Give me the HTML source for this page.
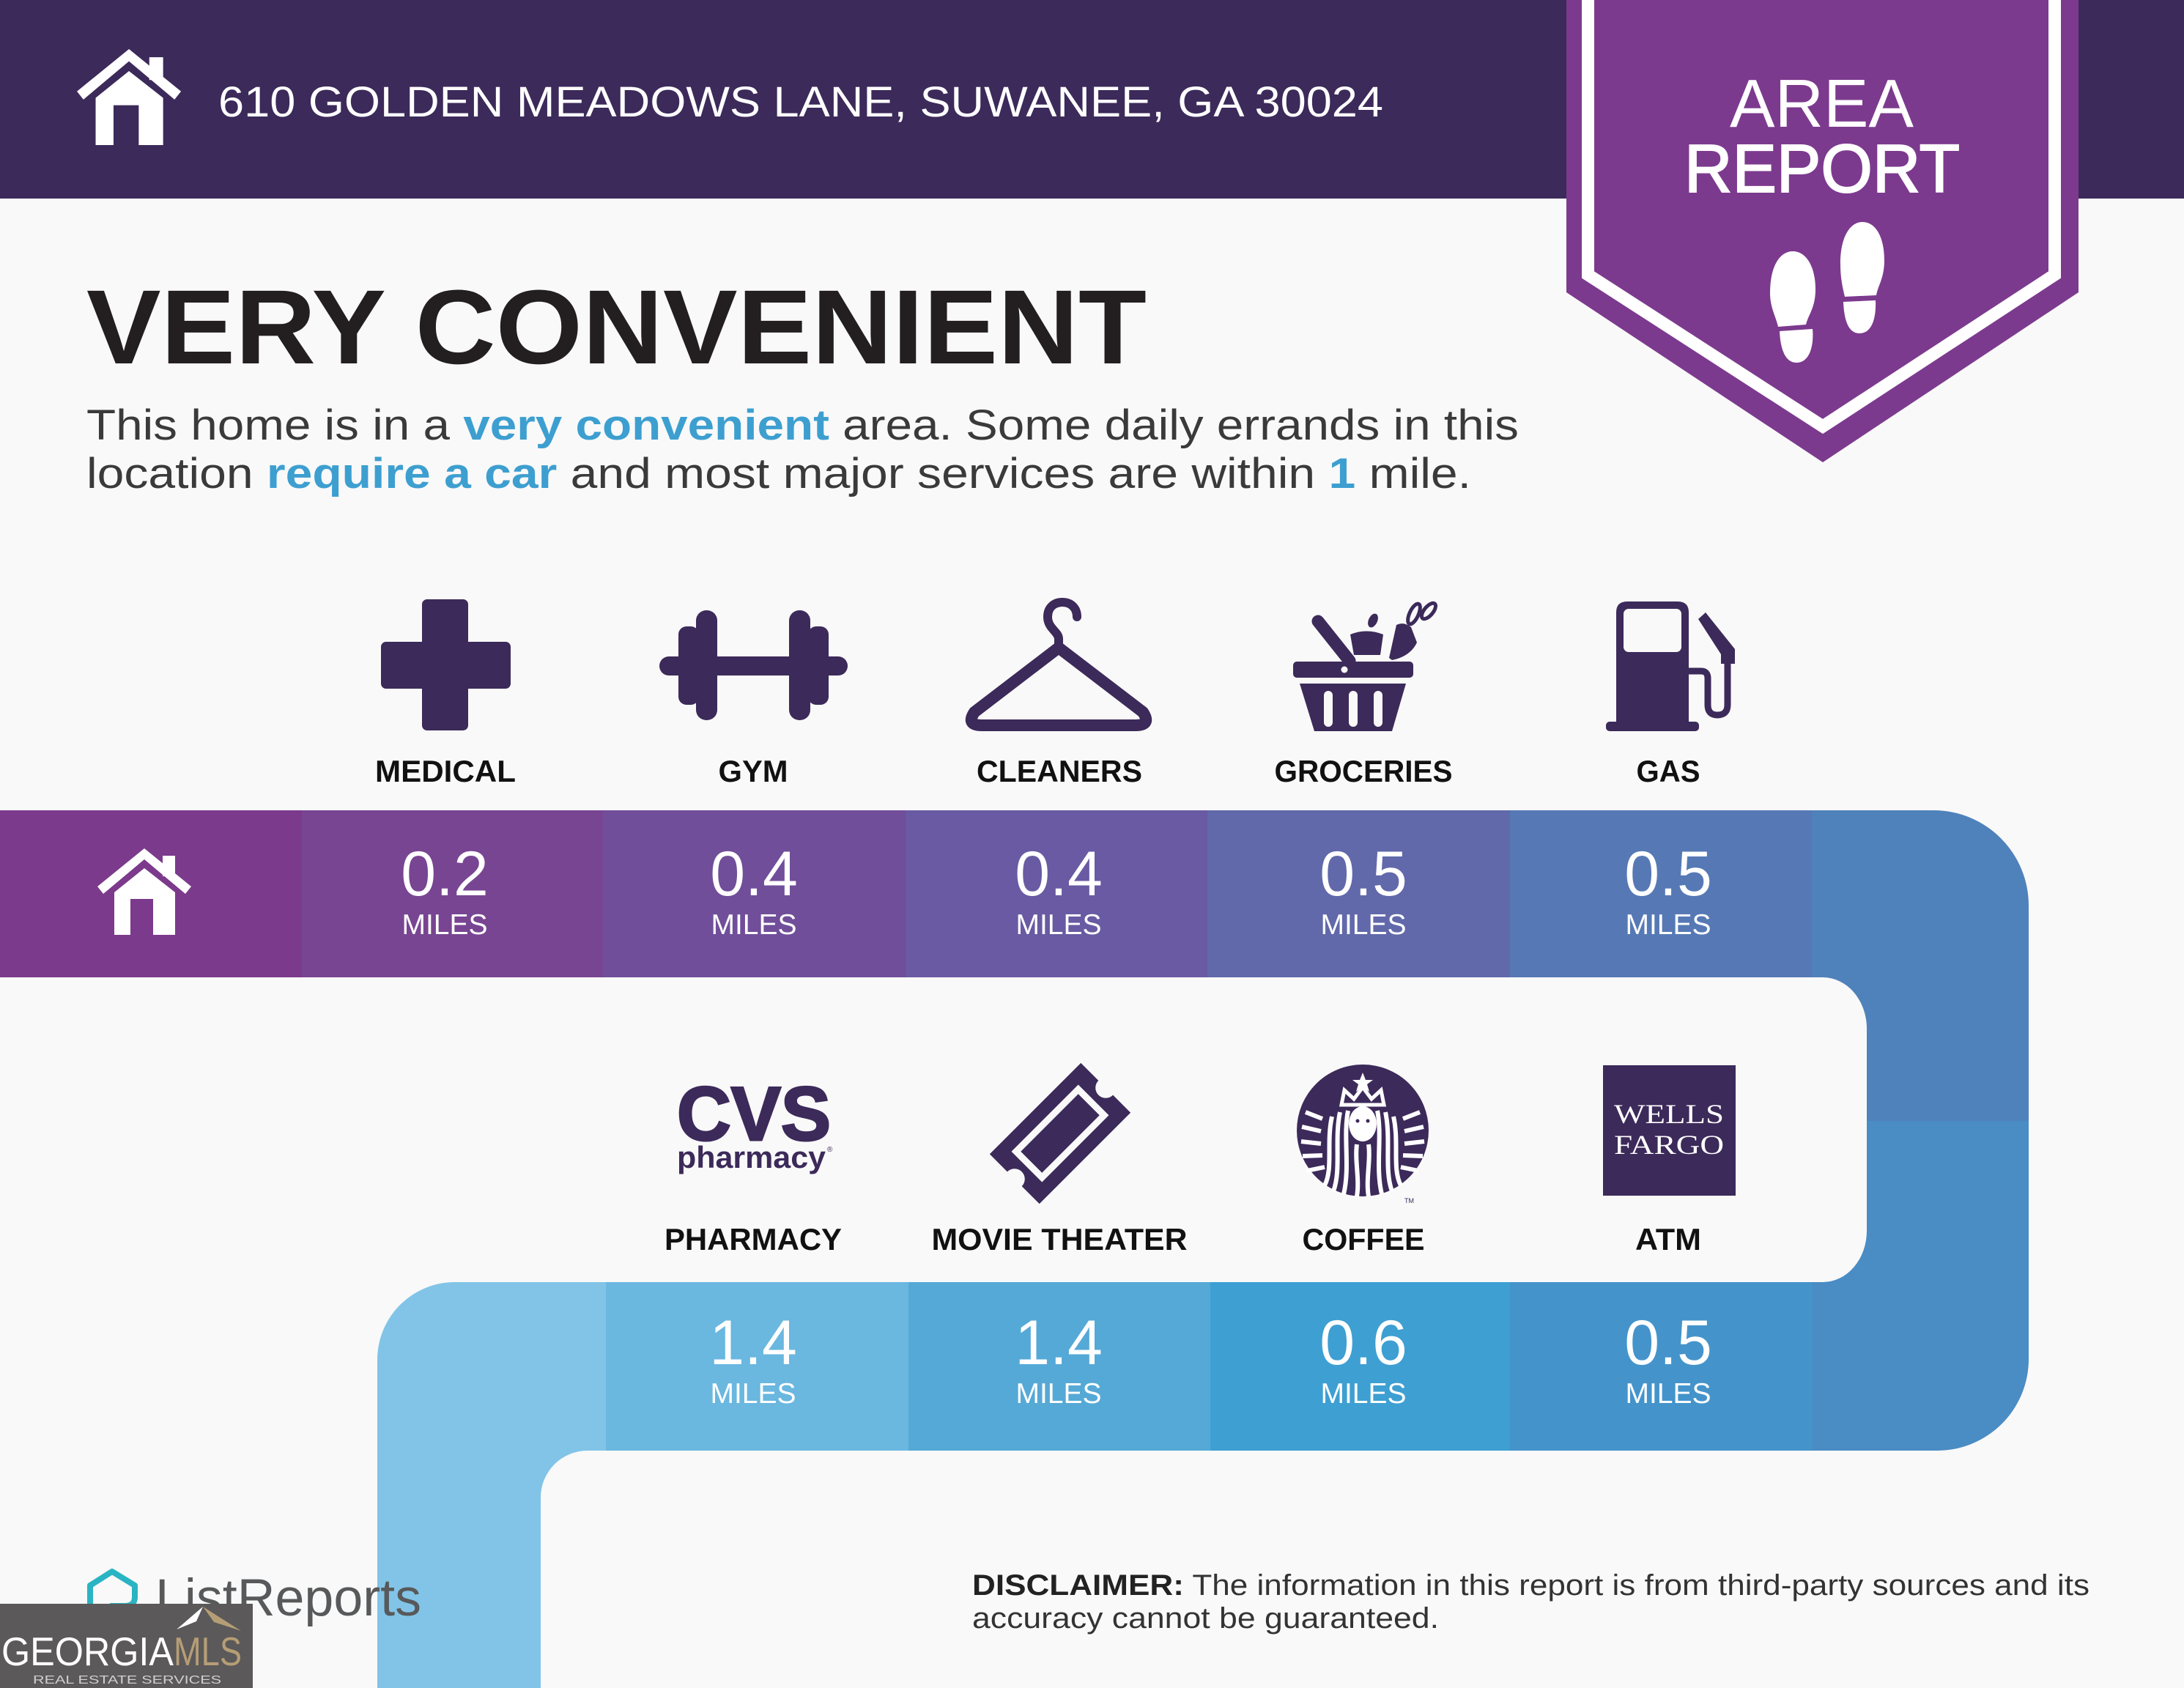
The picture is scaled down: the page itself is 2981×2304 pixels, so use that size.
<!DOCTYPE html>
<html>
<head>
<meta charset="utf-8">
<style>
  html,body{margin:0;padding:0;background:#f9f9f9;}
  svg{display:block;}
</style>
</head>
<body>
<svg width="2981" height="2304" viewBox="0 0 2981 2304" xmlns="http://www.w3.org/2000/svg" font-family="'Liberation Sans', Arial, sans-serif">
  <defs>
    <g id="house">
      <polygon points="64,0 128,52 120,62 64,15 8,62 0,52"/>
      <rect x="89" y="10" width="17" height="28"/>
      <path d="M64,27 L106,60 V118 H76 V69 H45 V118 H23 V60 Z"/>
    </g>
  </defs>

  <rect width="2981" height="2304" fill="#f9f9f9"/>

  <!-- header -->
  <rect x="0" y="0" width="2981" height="271" fill="#3c2a5a"/>
  <g fill="#ffffff" transform="translate(105,67) scale(1.11)"><use href="#house"/></g>
  <text x="298" y="159" font-size="58" fill="#ffffff" textLength="1590" lengthAdjust="spacingAndGlyphs">610 GOLDEN MEADOWS LANE, SUWANEE, GA 30024</text>

  <!-- area report banner -->
  <polygon points="2138,0 2837,0 2837,399 2488,631 2138,399" fill="#7c3a8e"/>
  <polyline points="2167.5,0 2167.5,375 2488,582 2804.5,375 2804.5,0" fill="none" stroke="#ffffff" stroke-width="17"/>
  <text x="2361" y="173" font-size="93" fill="#ffffff" textLength="251" lengthAdjust="spacingAndGlyphs">AREA</text>
  <text x="2299" y="262" font-size="93" fill="#ffffff" stroke="#ffffff" stroke-width="2" textLength="376" lengthAdjust="spacingAndGlyphs">REPORT</text>
  <g fill="#ffffff">
    <path d="M2416,400 C2416,362 2430,343 2447,343 C2466,343 2478,365 2478,395 C2478,420 2468,430 2465,443 L2427,446 C2424,432 2416,420 2416,400 Z"/>
    <path d="M2429,452 L2474,449 C2476,472 2470,495 2452,495 C2436,495 2430,475 2429,452 Z"/>
    <path d="M2512,360 C2512,322 2526,303 2542,303 C2561,303 2572,325 2572,355 C2572,380 2563,390 2561,403 L2518,405 C2515,392 2512,380 2512,360 Z"/>
    <path d="M2516,412 L2560,410 C2561,432 2556,455 2538,455 C2522,455 2517,435 2516,412 Z"/>
  </g>

  <!-- title -->
  <text x="118" y="496" font-size="144" font-weight="bold" fill="#231f20" textLength="1447" lengthAdjust="spacingAndGlyphs">VERY CONVENIENT</text>
  <text x="118" y="600" font-size="58" fill="#3a3a3a" textLength="1955" lengthAdjust="spacingAndGlyphs">This home is in a <tspan font-weight="bold" fill="#3d9fd0">very convenient</tspan> area. Some daily errands in this</text>
  <text x="118" y="666" font-size="58" fill="#3a3a3a" textLength="1890" lengthAdjust="spacingAndGlyphs">location <tspan font-weight="bold" fill="#3d9fd0">require a car</tspan> and most major services are within <tspan font-weight="bold" fill="#3d9fd0">1</tspan> mile.</text>

  <!-- ROW 1 ICONS -->
  <g fill="#3c2a5a">
    <rect x="576" y="818" width="63" height="179" rx="7"/>
    <rect x="520" y="876" width="177" height="64" rx="7"/>
    <rect x="900" y="896" width="257" height="26" rx="13"/>
    <rect x="950" y="833" width="29" height="150" rx="14"/>
    <rect x="926" y="855" width="28" height="107" rx="11"/>
    <rect x="1077" y="833" width="29" height="150" rx="14"/>
    <rect x="1103" y="855" width="28" height="107" rx="11"/>
    <line x1="1799" y1="848" x2="1842" y2="902" stroke="#3c2a5a" stroke-width="17" stroke-linecap="round"/>
    <path d="M1843,866 Q1865,857 1888,866 L1884,894 L1848,894 Z"/>
    <ellipse cx="1874" cy="847" rx="6" ry="10" transform="rotate(25 1874 847)"/>
    <path d="M1896,898 L1906,853 Q1916,848 1926,856 L1934,877 Q1925,896 1900,901 Z"/>
    <ellipse cx="1930" cy="838" rx="6" ry="15" transform="rotate(25 1930 838)" fill="none" stroke="#3c2a5a" stroke-width="5"/>
    <ellipse cx="1950" cy="834" rx="6" ry="13" transform="rotate(40 1950 834)" fill="none" stroke="#3c2a5a" stroke-width="5"/>
    <rect x="1765" y="903" width="164" height="22" rx="5"/>
    <polygon points="1774,933 1919,933 1900,998 1794,998"/>
    <path d="M2206,990 V836 Q2206,821 2221,821 H2290 Q2305,821 2305,836 V990 Z"/>
    <rect x="2192" y="985" width="127" height="13" rx="5"/>
    <path d="M2305,916 L2322,916 Q2331,916 2331,926 L2331,962 Q2331,976 2344,976 Q2358,976 2358,962 L2358,895" fill="none" stroke="#3c2a5a" stroke-width="9"/>
    <polygon points="2318,845 2328,836 2368,886 2368,906 2349,906 2349,893"/>
  </g>
  <g fill="#f9f9f9">
    <circle cx="1835" cy="914" r="4.5"/>
    <rect x="1807" y="943" width="12" height="49" rx="6"/>
    <rect x="1841" y="943" width="12" height="49" rx="6"/>
    <rect x="1875" y="943" width="12" height="49" rx="6"/>
    <rect x="2216" y="831" width="79" height="59" rx="7"/>
  </g>
  <g fill="none" stroke="#3c2a5a" stroke-linecap="round" stroke-linejoin="round">
    <path d="M1445,884 L1330,972 Q1318,990 1340,990 L1550,990 Q1572,990 1560,972 Z" stroke-width="16"/>
    <path d="M1445,884 L1445,872 C1445,862 1430,858 1430,842 C1430,828 1440,822 1450,822 C1462,822 1470,830 1470,842" stroke-width="12"/>
  </g>

  <g font-size="42" font-weight="bold" fill="#111111" text-anchor="middle">
    <text x="608" y="1067" textLength="192" lengthAdjust="spacingAndGlyphs">MEDICAL</text>
    <text x="1028" y="1067" textLength="95" lengthAdjust="spacingAndGlyphs">GYM</text>
    <text x="1446" y="1067" textLength="226" lengthAdjust="spacingAndGlyphs">CLEANERS</text>
    <text x="1861" y="1067" textLength="243" lengthAdjust="spacingAndGlyphs">GROCERIES</text>
    <text x="2277" y="1067" textLength="87" lengthAdjust="spacingAndGlyphs">GAS</text>
  </g>

  <!-- BANDS -->
  <path d="M2473,1106 H2639 A130,130 0 0 1 2769,1236 V1530 H2473 Z" fill="#4f82bb"/>
  <path d="M2473,1530 H2769 V1855 A125,125 0 0 1 2644,1980 H2473 Z" fill="#4a8cc4"/>
  <path d="M0,1334 H2488 A60,70 0 0 1 2548,1404 V1680 A60,70 0 0 1 2488,1750 H0 Z" fill="#f9f9f9"/>

  <rect x="0" y="1106" width="412" height="228" fill="#7b3a8b"/>
  <rect x="412" y="1106" width="411" height="228" fill="#784592"/>
  <rect x="823" y="1106" width="413" height="228" fill="#704e9a"/>
  <rect x="1236" y="1106" width="412" height="228" fill="#695aa3"/>
  <rect x="1648" y="1106" width="413" height="228" fill="#6169aa"/>
  <rect x="2061" y="1106" width="412" height="228" fill="#5679b5"/>

  <path d="M515,2304 V1856 A106,106 0 0 1 621,1750 H827 V2304 Z" fill="#82c4e7"/>
  <rect x="827" y="1750" width="413" height="230" fill="#6ab7e0"/>
  <rect x="1240" y="1750" width="412" height="230" fill="#55a9d6"/>
  <rect x="1652" y="1750" width="409" height="230" fill="#3e9fd2"/>
  <rect x="2061" y="1750" width="412" height="230" fill="#4494cb"/>
  <path d="M738,2304 V2044 A64,64 0 0 1 802,1980 H2981 V2304 Z" fill="#f9f9f9"/>

  <g fill="#ffffff" transform="translate(133,1158)"><use href="#house"/></g>

  <g fill="#ffffff" text-anchor="middle">
    <g font-size="86">
      <text x="607" y="1222">0.2</text>
      <text x="1029" y="1222">0.4</text>
      <text x="1445" y="1222">0.4</text>
      <text x="1861" y="1222">0.5</text>
      <text x="2277" y="1222">0.5</text>
    </g>
    <g font-size="39">
      <text x="607" y="1275">MILES</text>
      <text x="1029" y="1275">MILES</text>
      <text x="1445" y="1275">MILES</text>
      <text x="1861" y="1275">MILES</text>
      <text x="2277" y="1275">MILES</text>
    </g>
    <g font-size="86">
      <text x="1028" y="1862">1.4</text>
      <text x="1445" y="1862">1.4</text>
      <text x="1861" y="1862">0.6</text>
      <text x="2277" y="1862">0.5</text>
    </g>
    <g font-size="39">
      <text x="1028" y="1915">MILES</text>
      <text x="1445" y="1915">MILES</text>
      <text x="1861" y="1915">MILES</text>
      <text x="2277" y="1915">MILES</text>
    </g>
  </g>

  <!-- ROW 2 ICONS -->
  <text x="1029" y="1556" text-anchor="middle" font-size="104" font-weight="bold" fill="#3c2a5a" stroke="#3c2a5a" stroke-width="3" textLength="210" lengthAdjust="spacingAndGlyphs">CVS</text>
  <text x="924" y="1594" font-size="42" font-weight="bold" fill="#3c2a5a" textLength="203" lengthAdjust="spacingAndGlyphs">pharmacy</text>
  <text x="1129" y="1572" font-size="10" fill="#3c2a5a">®</text>

  <g transform="translate(1447,1547) rotate(-45)">
    <path d="M-88,-48 H88 V-14 A14,14 0 0 0 88,14 V48 H-88 V14 A14,14 0 0 0 -88,-14 Z" fill="#3c2a5a"/>
    <rect x="-60" y="-25" width="120" height="50" fill="none" stroke="#f9f9f9" stroke-width="9"/>
  </g>

  <!-- starbucks -->
  <g transform="translate(-5,0)">
    <circle cx="1865" cy="1543" r="90" fill="#3c2a5a"/>
    <polygon points="1865,1464 1869,1474 1879,1474 1871,1480 1874,1490 1865,1484 1856,1490 1859,1480 1851,1474 1861,1474" fill="#ffffff"/>
    <path d="M1836,1508 L1840,1488 L1853,1500 L1865,1484 L1877,1500 L1890,1488 L1894,1508 Z" fill="none" stroke="#ffffff" stroke-width="5"/>
    <ellipse cx="1865" cy="1534" rx="19" ry="24" fill="#ffffff"/>
    <circle cx="1858" cy="1530" r="2.5" fill="#3c2a5a"/>
    <circle cx="1872" cy="1530" r="2.5" fill="#3c2a5a"/>
    <g fill="none" stroke="#ffffff" stroke-width="6">
      <path d="M1845,1516 C1838,1552 1848,1592 1839,1630"/>
      <path d="M1834,1518 C1826,1556 1836,1596 1825,1626"/>
      <path d="M1823,1524 C1815,1560 1825,1595 1813,1618"/>
      <path d="M1885,1516 C1892,1552 1882,1592 1891,1630"/>
      <path d="M1896,1518 C1904,1556 1894,1596 1905,1626"/>
      <path d="M1907,1524 C1915,1560 1905,1595 1917,1618"/>
      <path d="M1857,1562 C1854,1585 1861,1610 1857,1633"/>
      <path d="M1873,1562 C1876,1585 1869,1610 1873,1633"/>
      <path d="M1787,1518 L1810,1527"/>
      <path d="M1782,1538 L1808,1544"/>
      <path d="M1781,1558 L1808,1561"/>
      <path d="M1783,1578 L1810,1577"/>
      <path d="M1789,1598 L1813,1593"/>
      <path d="M1943,1518 L1920,1527"/>
      <path d="M1948,1538 L1922,1544"/>
      <path d="M1949,1558 L1922,1561"/>
      <path d="M1947,1578 L1920,1577"/>
      <path d="M1941,1598 L1917,1593"/>
    </g>
  </g>
  <text x="1917" y="1642" font-size="9" fill="#3c2a5a">TM</text>

  <!-- wells fargo -->
  <rect x="2188" y="1454" width="181" height="178" fill="#3c2a5a"/>
  <g font-family="'Liberation Serif', 'Times New Roman', serif" font-size="37" fill="#ffffff" text-anchor="middle">
    <text x="2278" y="1533" textLength="150" lengthAdjust="spacingAndGlyphs">WELLS</text>
    <text x="2278" y="1575" textLength="150" lengthAdjust="spacingAndGlyphs">FARGO</text>
  </g>

  <g font-size="42" font-weight="bold" fill="#111111" text-anchor="middle">
    <text x="1028" y="1706" textLength="242" lengthAdjust="spacingAndGlyphs">PHARMACY</text>
    <text x="1446" y="1706" textLength="349" lengthAdjust="spacingAndGlyphs">MOVIE THEATER</text>
    <text x="1861" y="1706" textLength="167" lengthAdjust="spacingAndGlyphs">COFFEE</text>
    <text x="2277" y="1706" textLength="90" lengthAdjust="spacingAndGlyphs">ATM</text>
  </g>

  <!-- FOOTER -->
  <path d="M123,2194 V2164 L153,2145 L184,2164 V2180 Q184,2192 170,2192 H150" fill="none" stroke="#29b4c3" stroke-width="8" stroke-linejoin="round"/>
  <text x="212" y="2205" font-size="71" fill="#58595b" textLength="363" lengthAdjust="spacingAndGlyphs">ListReports</text>

  <rect x="0" y="2189" width="345" height="115" fill="#5b5959"/>
  <polygon points="241,2224 277,2193 268,2213" fill="#ffffff"/>
  <polygon points="277,2193 329,2226 292,2214" fill="#b59d76"/>
  <text x="2" y="2273" font-size="55" fill="#ffffff" textLength="235" lengthAdjust="spacingAndGlyphs">GEORGIA</text>
  <text x="237" y="2273" font-size="55" fill="#b59d76" textLength="93" lengthAdjust="spacingAndGlyphs">MLS</text>
  <text x="45" y="2298" font-size="16" fill="#cfcfcf" textLength="257" lengthAdjust="spacingAndGlyphs">REAL ESTATE SERVICES</text>

  <text x="1327" y="2177" font-size="40" fill="#333333" textLength="1525" lengthAdjust="spacingAndGlyphs"><tspan font-weight="bold" fill="#222222">DISCLAIMER:</tspan> The information in this report is from third-party sources and its</text>
  <text x="1327" y="2222" font-size="40" fill="#333333" textLength="637" lengthAdjust="spacingAndGlyphs">accuracy cannot be guaranteed.</text>
</svg>
</body>
</html>
